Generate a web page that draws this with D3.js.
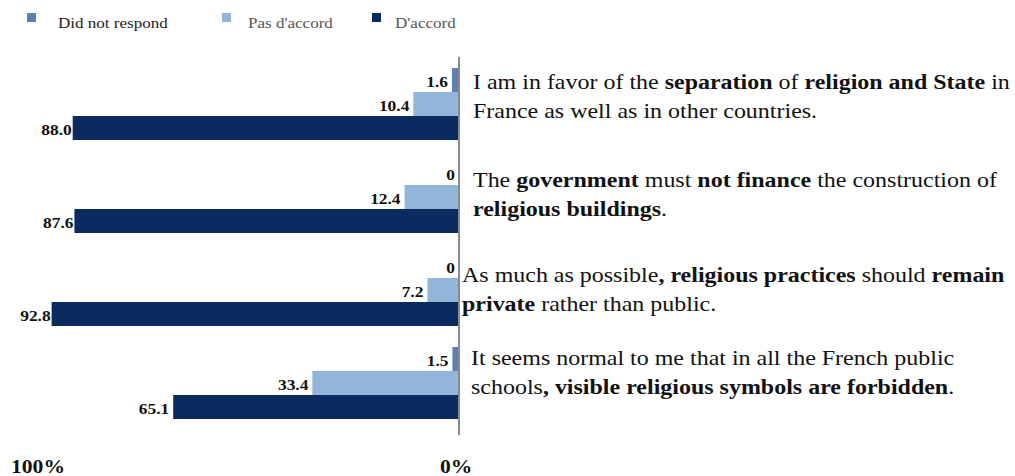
<!DOCTYPE html>
<html>
<head>
<meta charset="utf-8">
<script src="https://cdn.jsdelivr.net/npm/d3@7"></script>
<style>
  body { margin: 0; background: #fff; }
  svg { display: block; }
  text { font-family: "Liberation Serif", "Times New Roman", serif; }
</style>
</head>
<body>
<svg id="chart" width="1015" height="476"></svg>
<script>
// data
var series = ["Did not respond", "Pas d'accord", "D'accord"]
var colors = ["#5b81b4", "#92b6d9", "#0b2a5f"]
var noResponse = [1.6, 0, 0, 1.5]
var disagree = [10.4, 12.4, 7.2, 33.4]
var agree = [88.0, 87.6, 92.8, 65.1]
var valueLabels = [["1.6", "0", "0", "1.5"], ["10.4", "12.4", "7.2", "33.4"], ["88.0", "87.6", "92.8", "65.1"]]
var axisLabels = ["100%", "0%"]

// statements, split in lines of [text, bold] pieces
var statements = [
  [[["I am in favor of the ", 0], ["separation", 1], [" of ", 0], ["religion and State", 1], [" in", 0]],
   [["France as well as in other countries.", 0]]],
  [[["The ", 0], ["government", 1], [" must ", 0], ["not finance", 1], [" the construction of", 0]],
   [["religious buildings", 1], [".", 0]]],
  [[["As much as possible", 0], [", religious practices", 1], [" should ", 0], ["remain", 1]],
   [["private", 1], [" rather than public.", 0]]],
  [[["It seems normal to me that in all the French public", 0]],
   [["schools", 0], [", visible religious symbols are forbidden", 1], [".", 0]]]
]

var values = [noResponse, disagree, agree]
var sx = 1.2 // the picture is a bit wider than the type
var sxText = 1.09

var svg = d3.select("#chart")

var x = d3.scaleLinear().domain([0, 100]).range([459, 20])
var y = d3.scaleBand().domain(d3.range(4)).range([68, 419]).paddingInner(0.226)
var ySub = d3.scaleBand().domain(d3.range(3)).range([0, y.bandwidth()])

// legend
var legendX = [27, 222, 372]
var legend = svg.selectAll(".legend").data(series).enter().append("g")
  .attr("transform", function(d, i){ return "translate(" + legendX[i] + ",13)" })
legend.append("rect").attr("width", 9).attr("height", 9)
  .attr("fill", function(d, i){ return colors[i] })
legend.append("text")
  .attr("transform", function(d, i){ return "translate(" + (i == 0 ? 31 : (i == 1 ? 26 : 23)) + ",15) scale(" + sx + ",1)" })
  .attr("font-size", 14.2)
  .attr("fill", function(d, i){ return i == 0 ? "#222" : "#555" })
  .text(function(d){ return d })

// bars
series.forEach(function(s, si) {
  var g = svg.append("g")
  g.selectAll("rect").data(values[si]).enter().append("rect")
    .attr("x", function(d){ return x(d) })
    .attr("y", function(d, i){ return y(i) + ySub(si) })
    .attr("width", function(d){ return x(0) - x(d) })
    .attr("height", ySub.bandwidth())
    .attr("fill", colors[si])

  g.selectAll("text").data(values[si]).enter().append("text")
    .attr("transform", function(d, i){
      return "translate(" + (x(d) - (si == 2 && d > 80 ? 1 : 4)) + "," + (y(i) + ySub(si) + ySub.bandwidth() - 5) + ") scale(" + sx + ",1)"
    })
    .attr("text-anchor", "end")
    .attr("font-size", 14.5)
    .attr("font-weight", "bold")
    .attr("fill", "#111")
    .text(function(d, i){ return valueLabels[si][i] })
})

// zero line
svg.append("line")
  .attr("x1", x(0)).attr("x2", x(0))
  .attr("y1", 57).attr("y2", 435)
  .attr("stroke", "#8a8a8a").attr("stroke-width", 2)

// axis end labels
svg.selectAll(".axisLabel").data(axisLabels).enter().append("text")
  .attr("transform", function(d, i){ return "translate(" + (i == 0 ? 11 : 440) + ",473) scale(" + sx + ",1)" })
  .attr("font-size", 18)
  .attr("font-weight", "bold")
  .attr("fill", "#111")
  .text(function(d){ return d })

// statements next to the bars
var textX = [473, 473, 462, 471]
var textDy = [21, 26, 28, 18]
statements.forEach(function(lines, i) {
  lines.forEach(function(parts, li) {
    var t = svg.append("text")
      .attr("transform", "translate(" + textX[i] + "," + (y(i) + textDy[i] + li * 28.5) + ") scale(" + sxText + ",1)")
      .attr("font-size", 22)
      .attr("fill", "#111")
    parts.forEach(function(p) {
      t.append("tspan").attr("font-weight", p[1] ? "bold" : "normal").text(p[0])
    })
  })
})
</script>
</body>
</html>
